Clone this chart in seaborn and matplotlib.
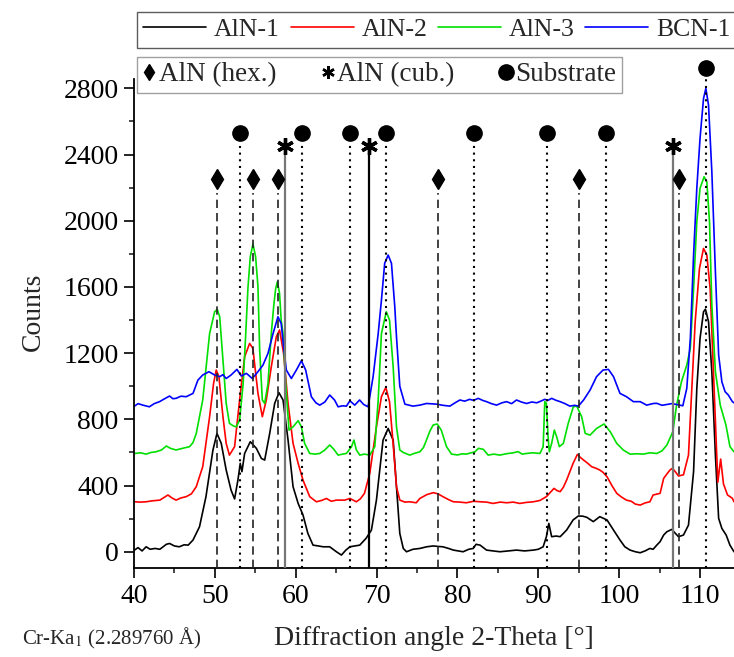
import matplotlib
matplotlib.use("Agg")
import matplotlib.pyplot as plt
from matplotlib.lines import Line2D
from matplotlib.ticker import MultipleLocator
import pandas as pd
import seaborn as sns

# ---------------- data: XRD patterns (2-Theta in degrees, counts) ----------------
aln1_x = [40.06, 40.5, 41.0, 41.5, 42.0, 42.6, 43.2, 44.0, 44.4, 45.0, 45.6, 46.2, 46.7, 47.3, 48.1,
          48.9, 49.76, 50.26, 50.79, 51.4, 52.0, 52.44, 52.85, 53.14, 53.35, 53.68, 54.38, 55.13,
          55.75, 56.16, 56.78, 57.4, 57.93, 58.43, 59.05, 59.67, 60.3, 60.9, 61.5, 62.14, 62.8,
          63.4, 64.2, 65.03, 65.65, 66.2, 66.7, 67.3, 67.92, 68.7, 69.1, 69.36, 69.98, 70.8, 71.43,
          72.05, 72.46, 72.87, 73.3, 73.7, 74.5, 75.35, 76.2, 77.0, 77.6, 78.2, 78.9, 79.5, 80.1,
          80.7, 81.4, 81.95, 82.3, 82.8, 83.2, 83.6, 84.4, 85.25, 86.3, 87.3, 88.3, 89.4, 90.0,
          90.6, 91.0, 91.3, 91.65, 92.2, 92.7, 93.5, 94.3, 94.95, 95.5, 96.0, 96.8, 97.6, 98.5,
          99.3, 100.1, 100.7, 101.35, 102.0, 102.6, 103.2, 103.8, 104.2, 104.65, 105.06, 105.5,
          105.9, 106.5, 107.33, 107.95, 108.57, 109.2, 109.6, 110.0, 110.43, 110.67, 111.05,
          111.46, 111.9, 112.3, 112.7, 113.23, 113.7, 114.2]
aln1_y = [10, 25, 5, 30, 15, 20, 15, 45, 50, 35, 30, 42, 40, 71, 151,
          333, 614, 715, 655, 494, 373, 319, 433, 534, 484, 594, 665, 625,
          564, 554, 715, 897, 961, 917, 675, 393, 292, 222, 111, 40, 35,
          30, 30, 0, -20, 10, 30, 35, 40, 81, 111, 131, 312, 675, 745,
          675, 393, 111, 20, 0, 15, 20, 30, 35, 32, 30, 20, 10, 5,
          0, 15, 20, 45, 40, 25, 10, 5, 0, 5, 10, 5, 10, 15,
          30, 91, 171, 91, 95, 91, 131, 192, 216, 215, 208, 182, 212, 192,
          131, 71, 30, 10, 0, -6, 5, 20, 15, 40, 61, 101,
          121, 135, 91, 101, 161, 484, 987, 1289, 1450, 1466, 1390,
          1088, 584, 202, 141, 101, 40, 0]

aln2_x = [40.06, 40.8, 41.5, 42.3, 43.2, 44.2, 44.7, 45.2, 45.8, 46.46, 47.1, 47.7, 48.5, 49.35,
          49.84, 50.17, 50.5, 51.0, 51.4, 51.8, 52.44, 53.06, 53.68, 54.3, 54.7, 55.33, 55.87,
          56.36, 56.98, 57.6, 58.0, 58.5, 59.05, 59.67, 60.3, 60.9, 61.73, 62.55, 63.2, 63.8,
          64.4, 65.03, 66.06, 66.7, 67.5, 68.0, 68.5, 69.16, 69.98, 70.6, 71.14, 71.6, 72.05,
          72.46, 72.87, 73.5, 74.1, 74.9, 75.35, 76.2, 77.0, 77.6, 78.2, 78.9, 79.5, 80.3, 81.1,
          82.0, 82.8, 83.6, 84.4, 85.3, 86.1, 86.9, 87.7, 88.5, 89.4, 90.2, 91.0, 91.5, 91.94,
          92.3, 92.7, 93.1, 93.5, 94.3, 94.83, 95.2, 95.6, 96.1, 96.6, 97.1, 97.6, 98.0, 98.5,
          99.1, 99.7, 100.3, 100.9, 101.5, 102.0, 102.6, 103.2, 103.8, 104.2, 105.06, 105.5,
          105.9, 106.3, 106.6, 107.0, 107.33, 107.95, 108.57, 108.98, 109.4, 109.93, 110.43,
          110.84, 111.25, 111.66, 112.0, 112.2, 112.55, 112.9, 113.4, 114.0, 114.2]
aln2_y = [302, 300, 302, 308, 312, 343, 325, 312, 325, 333, 350, 393, 514, 816,
          1017, 1098, 1058, 816, 655, 584, 635, 917, 1178, 1259, 1229, 957, 816,
          917, 1118, 1299, 1340, 1198, 897, 655, 534, 433, 333, 302, 310, 322,
          305, 312, 312, 322, 302, 320, 353, 474, 755, 937, 993, 907, 650,
          393, 312, 300, 302, 296, 322, 345, 357, 350, 333, 315, 302, 300, 296,
          305, 302, 300, 292, 300, 296, 300, 292, 298, 302, 310, 333, 360, 383,
          370, 363, 390, 433, 534, 588, 570, 554, 535, 514, 505, 494, 480, 453,
          400, 353, 330, 312, 305, 288, 282, 295, 302, 343, 353, 443,
          470, 495, 504, 480, 458, 465, 584, 987, 1390, 1712, 1833,
          1793, 1591, 1088, 685, 420, 560, 410, 343, 323, 302]

aln3_x = [40.06, 40.8, 41.5, 42.1, 42.7, 43.4, 44.0, 44.5, 45.2, 46.0, 46.87, 47.3, 47.7, 48.5,
          49.35, 49.97, 50.3, 50.6, 51.0, 51.4, 51.8, 52.3, 52.65, 53.06, 53.5, 53.8, 54.1,
          54.38, 54.71, 55.04, 55.33, 55.54, 55.87, 56.16, 56.57, 56.98, 57.27, 57.52, 57.73,
          58.0, 58.2, 58.43, 58.76, 59.17, 59.67, 60.3, 60.7, 61.1, 61.73, 62.4, 62.97, 63.6,
          64.2, 64.7, 65.24, 65.8, 66.27, 66.9, 67.2, 67.5, 67.92, 68.5, 69.16, 69.78, 70.2,
          70.6, 71.2, 71.6, 72.05, 72.46, 72.87, 73.3, 74.1, 74.7, 75.35, 75.8, 76.17, 76.6,
          77.0, 77.5, 78.0, 78.65, 79.27, 80.0, 80.6, 81.1, 81.7, 82.16, 82.6, 83.2, 83.8, 84.5,
          85.25, 86.0, 86.9, 87.5, 88.0, 88.55, 89.3, 90.2, 90.6, 90.8, 91.0, 91.2, 91.36, 91.65,
          91.98, 92.27, 92.6, 93.1, 93.7, 94.33, 94.75, 95.36, 95.8, 96.4, 97.2, 98.13, 98.9,
          99.7, 100.5, 101.35, 102.2, 103.0, 103.8, 104.65, 105.3, 105.9, 106.63, 107.1, 107.7,
          108.36, 108.8, 109.2, 109.6, 110.0, 110.5, 110.84, 111.17, 111.46, 111.9, 112.5,
          113.2, 113.7, 114.2]
aln3_y = [594, 598, 590, 600, 604, 615, 639, 625, 615, 625, 635, 660, 715, 917,
          1319, 1450, 1464, 1420, 1158, 897, 776, 760, 755, 796, 1017, 1300, 1601,
          1783, 1859, 1783, 1601, 1219, 917, 897, 1017, 1319, 1481, 1591, 1632,
          1561, 1400, 1319, 1017, 735, 755, 792, 755, 655, 594, 590, 594, 615,
          645, 620, 584, 590, 594, 635, 675, 615, 584, 590, 584, 635, 917,
          1319, 1450, 1400, 1118, 755, 615, 600, 584, 595, 604, 630, 675, 730,
          766, 772, 735, 635, 590, 585, 592, 590, 598, 604, 625, 619, 584, 590,
          584, 592, 598, 605, 590, 594, 598, 594, 635, 907, 897, 700, 604, 655,
          735, 695, 635, 655, 776, 876, 880, 816, 715, 705, 745, 772, 725,
          655, 615, 590, 592, 590, 598, 594, 610, 645, 725, 886, 1027,
          1128, 1229, 1591, 1994, 2196, 2266, 2236, 1994, 1491, 1088, 886,
          766, 635, 604]

bcn1_x = [40.06, 40.5, 41.1, 41.9, 42.5, 43.16, 43.8, 44.4, 44.8, 45.2, 45.8, 46.46, 47.3, 47.9,
          48.5, 49.27, 49.97, 50.6, 51.0, 51.4, 52.0, 52.73, 53.27, 53.9, 54.63, 55.33, 55.95,
          56.57, 57.2, 57.8, 58.2, 58.5, 58.84, 59.46, 60.08, 60.7, 61.23, 61.93, 62.5, 62.97,
          63.6, 64.2, 64.8, 65.24, 65.8, 66.27, 66.7, 67.3, 67.9, 68.4, 68.95, 69.57, 70.2, 70.6,
          71.0, 71.43, 71.84, 72.25, 72.46, 72.87, 73.5, 74.5, 75.35, 76.17, 77.4, 78.2, 79.06,
          79.7, 80.3, 80.9, 81.5, 82.0, 82.57, 83.1, 83.6, 84.2, 84.84, 85.5, 86.08, 86.7, 87.3,
          87.9, 88.55, 89.2, 89.8, 90.3, 90.8, 91.2, 91.65, 92.2, 92.7, 93.3, 93.9, 94.5, 94.95,
          95.6, 96.4, 97.2, 98.0, 98.67, 99.3, 100.1, 100.9, 101.76, 102.6, 103.4, 104.24, 104.65,
          105.3, 105.9, 106.5, 107.1, 107.87, 108.36, 108.8, 109.2, 109.6, 110.0, 110.43, 110.72,
          111.05, 111.46, 111.9, 112.3, 112.7, 113.1, 113.5, 114.0, 114.2]
bcn1_y = [880, 895, 886, 876, 895, 907, 925, 941, 925, 927, 940, 937, 957, 1037,
          1068, 1088, 1068, 1058, 1070, 1047, 1068, 1102, 1062, 1078, 1047, 1088, 1128,
          1199, 1319, 1420, 1380, 1239, 1098, 1047, 1098, 1154, 1098, 937, 900, 886,
          905, 947, 917, 876, 882, 880, 912, 886, 917, 890, 876, 1058, 1319, 1521,
          1743, 1793, 1743, 1481, 1300, 1000, 892, 880, 886, 896, 892, 885, 880,
          900, 917, 910, 921, 915, 927, 915, 907, 895, 886, 900, 907, 895, 917,
          905, 896, 905, 900, 910, 921, 915, 927, 915, 907, 895, 880, 885, 880,
          917, 977, 1058, 1098, 1102, 1058, 957, 937, 907, 907, 886, 896, 897,
          885, 890, 895, 890, 882, 987, 1289, 1793, 2196, 2498, 2739, 2800,
          2699, 2296, 1692, 1189, 1027, 967, 947, 907, 900]

samples = ["AlN-1", "AlN-2", "AlN-3", "BCN-1"]
sample_colors = ["#000000", "#ff0000", "#00e000", "#0000ff"]

# reference reflections (2-Theta positions)
hex_pos = [50.30, 54.67, 57.85, 77.54, 95.03, 107.37]
cub_pos = [58.67, 69.0, 106.63]
sub_pos = [53.06, 60.74, 66.72, 71.14, 82.0, 91.03, 98.34, 110.72]

df = pd.concat([
    pd.DataFrame({"two_theta": aln1_x, "counts": aln1_y, "sample": "AlN-1"}),
    pd.DataFrame({"two_theta": aln2_x, "counts": aln2_y, "sample": "AlN-2"}),
    pd.DataFrame({"two_theta": aln3_x, "counts": aln3_y, "sample": "AlN-3"}),
    pd.DataFrame({"two_theta": bcn1_x, "counts": bcn1_y, "sample": "BCN-1"}),
], ignore_index=True)

# ---------------- style ----------------
sns.set_theme(style="ticks")
plt.rcParams["font.family"] = ["Liberation Serif", "DejaVu Serif"]
plt.rcParams["mathtext.fontset"] = "stix"

W, H = 734, 657
fig = plt.figure(figsize=(W / 100, H / 100), dpi=100)
ax = fig.add_axes([134 / W, 1 - 568.3 / H, 1 - 134 / W, (568.3 - 79.3) / H])

sns.lineplot(data=df, x="two_theta", y="counts", hue="sample", hue_order=samples,
             palette=dict(zip(samples, sample_colors)), estimator=None, sort=False,
             linewidth=1.2, legend=False, ax=ax)

ymin, ymax = -100, 2855
ax.set_xlim(40, 114.2)
ax.set_ylim(ymin, ymax)

# reference lines and phase markers
hex_top, sub_top, cub_top = 2170, 2470, 2410
hex_mark, sub_mark, cub_mark = 2251, 2529, 2450
for x in hex_pos:
    ax.vlines(x, ymin, hex_top, colors="#222222", linestyles=(0, (5, 3)), linewidth=1.2, zorder=4)
    ax.plot(x, hex_mark, marker="d", ms=10, color="black", ls="none", clip_on=False, zorder=5)
for i, x in enumerate(sub_pos):
    top = sub_top if i < len(sub_pos) - 1 else ymax
    mark = sub_mark if i < len(sub_pos) - 1 else 2925
    ax.vlines(x, ymin, top, colors="black", linestyles=(0, (1, 2.2)), linewidth=1.5, zorder=4)
    ax.plot(x, mark, marker="o", ms=11, color="black", ls="none", clip_on=False, zorder=5)
for x in cub_pos:
    c = "black" if x == 69.0 else "#777777"
    ax.vlines(x, ymin, cub_top, colors=c, linestyles="solid", linewidth=1.6, zorder=4)
    ax.plot(x, cub_mark, marker=(6, 2, 0), ms=12, mew=2.4, color="black", ls="none",
            clip_on=False, zorder=5)

# axes, ticks, labels
ax.xaxis.set_major_locator(MultipleLocator(10))
ax.xaxis.set_minor_locator(MultipleLocator(5))
ax.yaxis.set_major_locator(MultipleLocator(400))
ax.yaxis.set_minor_locator(MultipleLocator(200))
ax.set_xticks(range(40, 111, 10))
ax.tick_params(which="major", direction="out", length=7, width=1.2, labelsize=20, pad=4,
               colors="black")
ax.tick_params(which="minor", direction="out", length=3.5, width=1.2)
for s in ("top", "right"):
    ax.spines[s].set_visible(False)
for s in ("left", "bottom"):
    ax.spines[s].set_linewidth(1.3)
    ax.spines[s].set_color("black")

ax.set_xlabel("Diffraction angle 2-Theta [°]", fontsize=20)
ax.set_ylabel("Counts", fontsize=20)
ax.xaxis.set_label_coords(0.5, -0.117)
ax.yaxis.set_label_coords(-0.147, 0.525)

fig.text(22 / W, 1 - 638 / H, r"Cr-Ka$_1$ (2.289760 Å)", fontsize=15, va="center", ha="left")

# legends
line_handles = [Line2D([], [], color=c, lw=1.2) for c in sample_colors]
leg1 = fig.legend(line_handles, samples, loc="upper left", ncol=4,
                  bbox_to_anchor=(137 / W, 1 - 12 / H),
                  fontsize=18.5, frameon=True, fancybox=False, edgecolor="#333333",
                  handlelength=2.45, handletextpad=0.3, columnspacing=0.42, borderpad=0.25,
                  borderaxespad=0)
leg1.get_frame().set_linewidth(1.0)

phase_handles = [
    Line2D([], [], ls="none", marker="d", ms=8, color="black"),
    Line2D([], [], ls="none", marker=(6, 2, 0), ms=9, mew=1.8, color="black"),
    Line2D([], [], ls="none", marker="o", ms=11, color="black"),
]
leg2 = fig.legend(phase_handles, ["AlN (hex.)", "AlN (cub.)", "Substrate"], loc="upper left",
                  ncol=3, bbox_to_anchor=(137 / W, 1 - 57 / H, (622 - 137) / W, 0),
                  mode="expand", fontsize=19.5, frameon=True, fancybox=False,
                  edgecolor="#888888", handlelength=0.5, handletextpad=0.1,
                  columnspacing=0.8, borderpad=0.2, borderaxespad=0)
leg2.get_frame().set_linewidth(1.0)

fig.savefig("out.png", dpi=100, facecolor="white")
